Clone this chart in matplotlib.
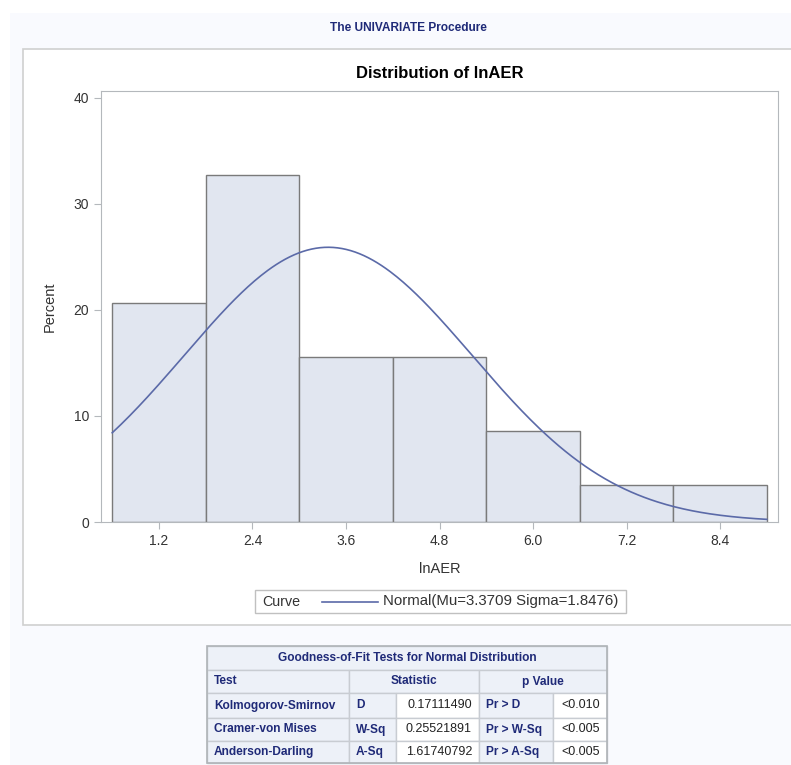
import numpy as np
import matplotlib
matplotlib.use("Agg")
import matplotlib.pyplot as plt
from matplotlib.patches import Rectangle

plt.rcParams['font.family'] = ['Liberation Sans', 'DejaVu Sans']

# histogram data (percent per bin, bins of width 1.2)
bin_edges = [0.6, 1.8, 3.0, 4.2, 5.4, 6.6, 7.8, 9.0]
percents = [20.69, 32.76, 15.52, 15.52, 8.62, 3.45, 3.45]
xticks = [1.2, 2.4, 3.6, 4.8, 6.0, 7.2, 8.4]
yticks = [0, 10, 20, 30, 40]
mu = 3.3709
sigma = 1.8476

# goodness-of-fit table
tests = ['Kolmogorov-Smirnov', 'Cramer-von Mises', 'Anderson-Darling']
stat_names = ['D', 'W-Sq', 'A-Sq']
stat_values = ['0.17111490', '0.25521891', '1.61740792']
p_names = ['Pr > D', 'Pr > W-Sq', 'Pr > A-Sq']
p_values = ['<0.010', '<0.005', '<0.005']

W, H = 791, 765
fig = plt.figure(figsize=(W / 100, H / 100), dpi=100, facecolor='white')

# background layer in pixel coords
bg = fig.add_axes([0, 0, 1, 1])
bg.set_xlim(0, W)
bg.set_ylim(H, 0)
bg.axis('off')
bg.add_patch(Rectangle((10, 13), W - 10, H - 13, facecolor='#f9fafe', edgecolor='none'))
bg.add_patch(Rectangle((23, 49), W, 576, facecolor='white', edgecolor='#d0d0d0', lw=1.2))
bg.text(408, 28, 'The UNIVARIATE Procedure', ha='center', va='center',
        fontsize=8.6, fontweight='bold', color='#1f2a78')


def px_rect(left, top, right, bottom):
    return [left / W, 1 - bottom / H, (right - left) / W, (bottom - top) / H]


ax = fig.add_axes(px_rect(101, 91, 778, 522))
widths = np.diff(bin_edges)
ax.bar(bin_edges[:-1], percents, width=widths, align='edge',
       facecolor='#e1e6f0', edgecolor='#7a7a7a', linewidth=1.0, zorder=2)
xs = np.linspace(bin_edges[0], bin_edges[-1], 300)
ys = 100 * 1.2 / (sigma * np.sqrt(2 * np.pi)) * np.exp(-0.5 * ((xs - mu) / sigma) ** 2)
curve, = ax.plot(xs, ys, color='#5b6aa8', lw=1.2, zorder=3)
ax.set_xlim(0.456, 9.144)
ax.set_ylim(0, 40.65)
ax.set_xticks(xticks)
ax.set_xticklabels(['%.1f' % v for v in xticks])
ax.set_yticks(yticks)
for s in ax.spines.values():
    s.set_color('#b4b8bc')
ax.tick_params(colors='#b4b8bc', labelcolor='#333333', labelsize=10, length=5)
ax.set_xlabel('lnAER', fontsize=10.5, color='#333333', labelpad=10)
ax.set_ylabel('Percent', fontsize=10.5, color='#333333', labelpad=12)
ax.set_title('Distribution of lnAER', fontsize=12, fontweight='bold', color='black', pad=9)

# legend box
bg.add_patch(Rectangle((255, 590), 371, 23, facecolor='white', edgecolor='#c0c0c0', lw=1))
bg.text(262, 601.5, 'Curve', ha='left', va='center', fontsize=10.3, color='#333333')
bg.plot([322, 378], [601.5, 601.5], color='#5b6aa8', lw=1.2)
bg.text(383, 601.5, 'Normal(Mu=%.4f Sigma=%.4f)' % (mu, sigma), ha='left', va='center',
        fontsize=10.8, color='#333333')

# table
lab_bg = '#edf1f8'
grid = '#c8ccd2'
txt_c = '#1f2a78'
fs_lab = 8.6
fs_val = 9
cols = [207, 349, 396, 479, 553, 607]
rows = [646, 670, 693, 718, 741, 763]


def cell(x0, y0, x1, y1, fc):
    bg.add_patch(Rectangle((x0, y0), x1 - x0, y1 - y0, facecolor=fc, edgecolor=grid, lw=1))


cell(cols[0], rows[0], cols[-1], rows[1], lab_bg)
bg.text((cols[0] + cols[-1]) / 2, (rows[0] + rows[1]) / 2,
        'Goodness-of-Fit Tests for Normal Distribution', ha='center', va='center',
        fontsize=fs_lab, fontweight='bold', color=txt_c)
cell(cols[0], rows[1], cols[1], rows[2], lab_bg)
cell(cols[1], rows[1], cols[3], rows[2], lab_bg)
cell(cols[3], rows[1], cols[5], rows[2], lab_bg)
ym = (rows[1] + rows[2]) / 2
bg.text(cols[0] + 7, ym, 'Test', ha='left', va='center', fontsize=fs_lab, fontweight='bold', color=txt_c)
bg.text((cols[1] + cols[3]) / 2, ym, 'Statistic', ha='center', va='center', fontsize=fs_lab,
        fontweight='bold', color=txt_c)
bg.text((cols[3] + cols[5]) / 2, ym, 'p Value', ha='center', va='center', fontsize=fs_lab,
        fontweight='bold', color=txt_c)

for i in range(3):
    y0, y1 = rows[i + 2], rows[i + 3]
    ym = (y0 + y1) / 2
    cell(cols[0], y0, cols[1], y1, lab_bg)
    cell(cols[1], y0, cols[2], y1, lab_bg)
    cell(cols[2], y0, cols[3], y1, 'white')
    cell(cols[3], y0, cols[4], y1, lab_bg)
    cell(cols[4], y0, cols[5], y1, 'white')
    bg.text(cols[0] + 7, ym, tests[i], ha='left', va='center', fontsize=fs_lab,
            fontweight='bold', color=txt_c)
    bg.text(cols[1] + 7, ym, stat_names[i], ha='left', va='center', fontsize=fs_lab,
            fontweight='bold', color=txt_c)
    bg.text(cols[3] - 7, ym, stat_values[i], ha='right', va='center', fontsize=fs_val, color='#222222')
    bg.text(cols[3] + 7, ym, p_names[i], ha='left', va='center', fontsize=fs_lab,
            fontweight='bold', color=txt_c)
    bg.text(cols[5] - 7, ym, p_values[i], ha='right', va='center', fontsize=fs_val, color='#222222')

bg.add_patch(Rectangle((cols[0], rows[0]), cols[-1] - cols[0], rows[-1] - rows[0],
                       facecolor='none', edgecolor='#b0b4b8', lw=1.2))

fig.savefig('out.png', dpi=100, facecolor='white')
